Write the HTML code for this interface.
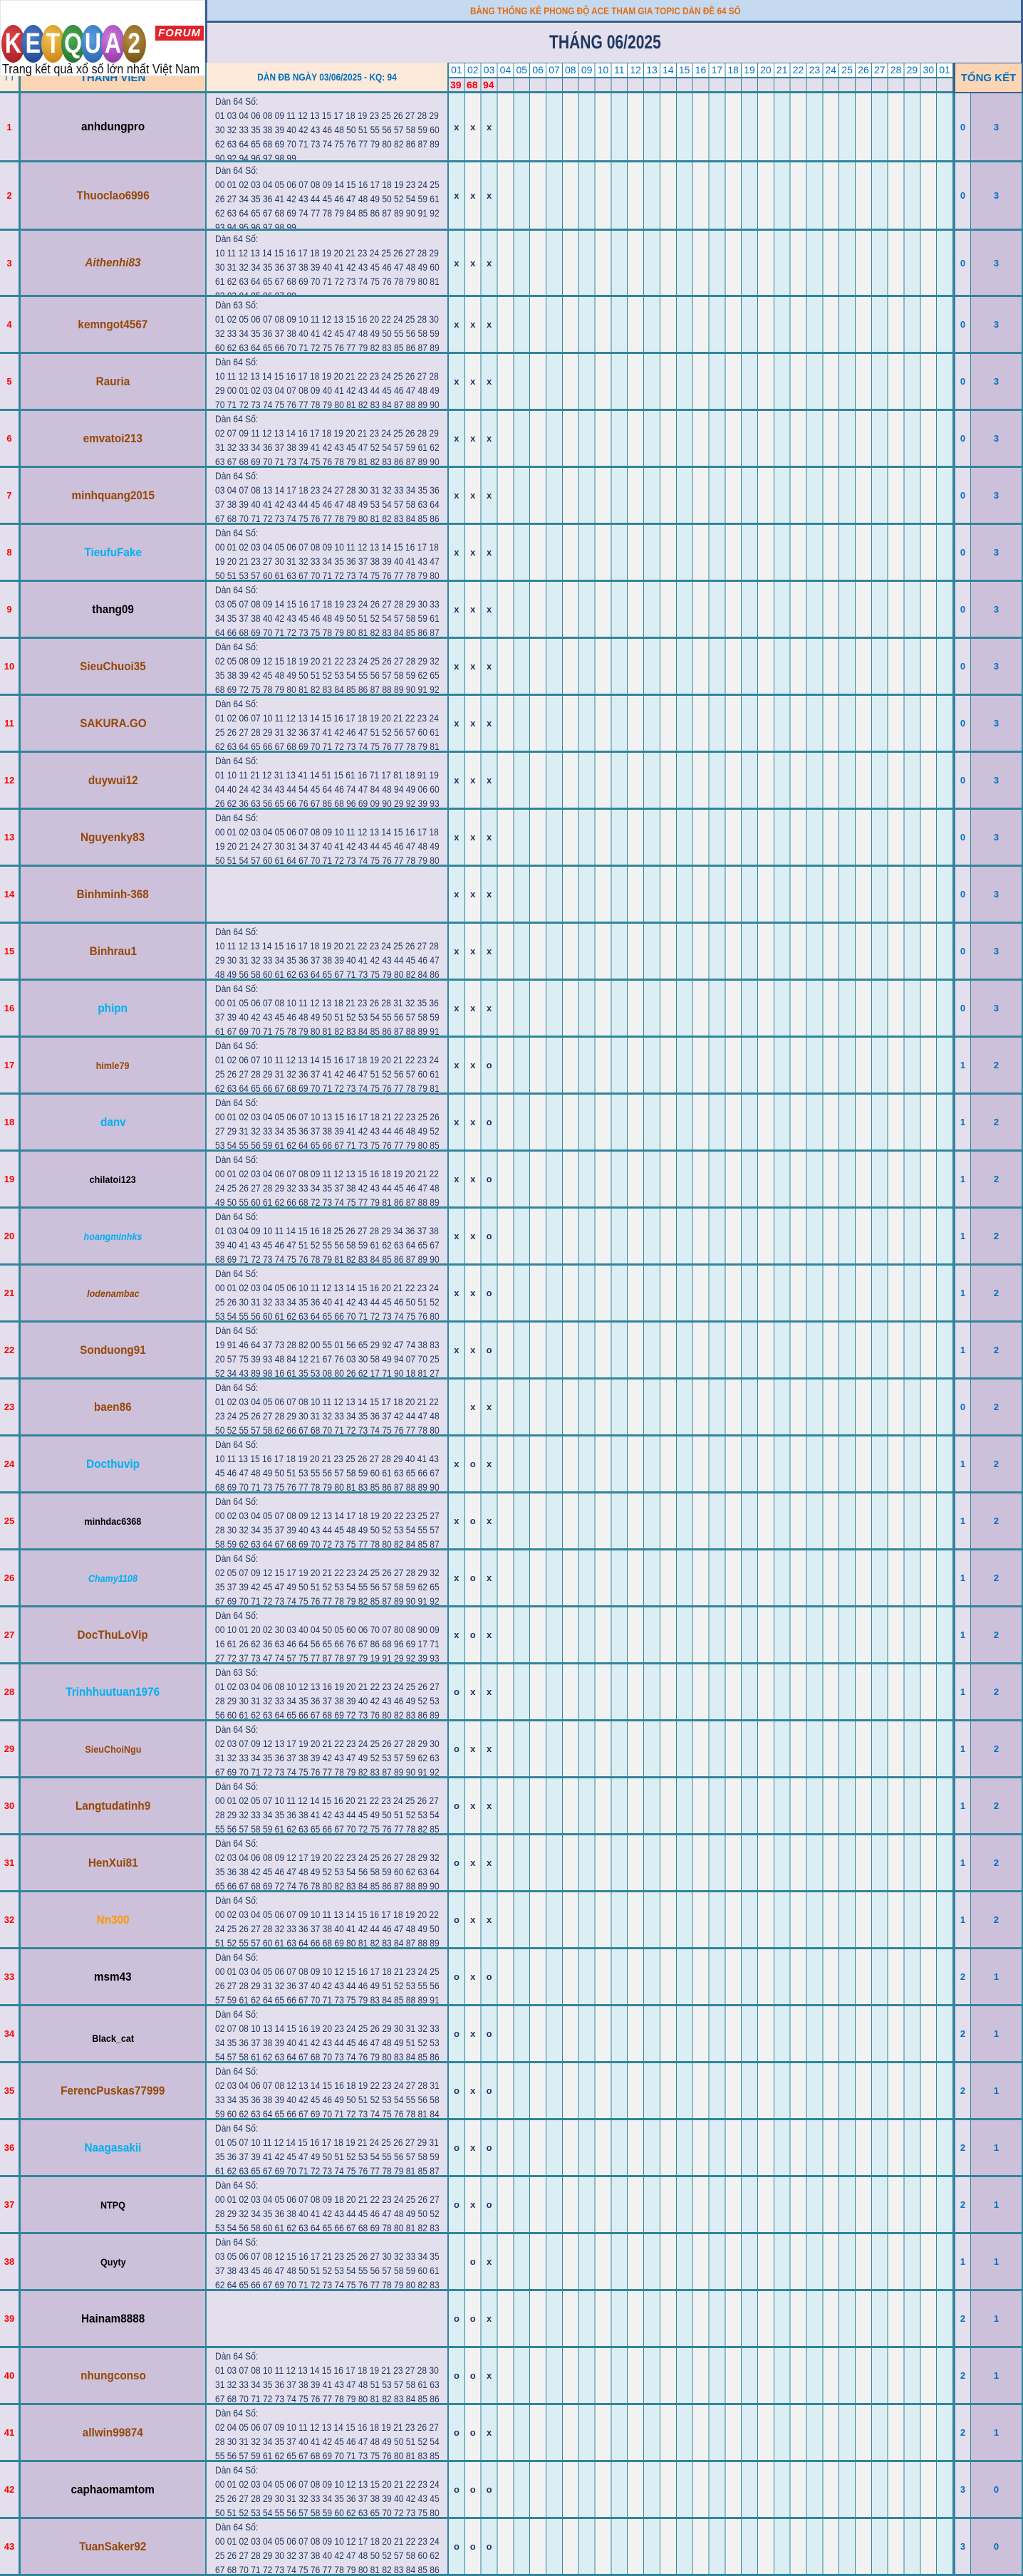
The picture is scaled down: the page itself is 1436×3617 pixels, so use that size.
<!DOCTYPE html>
<html><head><meta charset="utf-8"><style>
*{margin:0;padding:0;box-sizing:border-box}
body{width:1436px;height:3617px;position:relative;background:#fff;overflow:hidden;font-family:"Liberation Sans",sans-serif}
.r{position:absolute;left:0;width:1436px;background:#31859c}
.r>*{position:absolute;top:0;bottom:3px}
.tt{left:0;width:26px;background:#e4dfec;color:#f00;font:bold 13px "Liberation Sans",sans-serif;display:flex;align-items:center;justify-content:center}
.nm{left:29px;width:259px;background:#ccc0da;display:flex;align-items:center;justify-content:center;font:bold 17px "Liberation Sans",sans-serif;color:#974806}
.nm span{display:inline-block;transform:scaleX(.9);white-space:nowrap}
.bl{color:#00b0f0}.k{color:#000}.it{font-style:italic}.sm{font-size:14px}
.dn{left:290px;width:338px;background:#e4dfec;overflow:hidden}
.dn div{position:absolute;left:12px;top:1px;font:14px/20px "Liberation Sans",sans-serif;color:#1f3864;transform:scaleX(.86);transform-origin:0 0;white-space:nowrap}
.dy{left:630px;width:708px;background:repeating-linear-gradient(90deg,#daeef3 0,#daeef3 21.84px,#31859c 21.84px,#31859c 22.84px,#f2f2f2 22.84px,#f2f2f2 44.68px,#31859c 44.68px,#31859c 45.68px)}
.dy s{text-decoration:none;position:absolute;top:0;bottom:0;width:21.84px;display:flex;align-items:center;justify-content:center;font:bold 13px "Liberation Sans",sans-serif;color:#1f3864}
.dy s:nth-child(2){left:22.84px}.dy s:nth-child(3){left:45.68px}
.t1{left:1341px;width:21px;background:#e4dfec}
.t2{left:1363px;width:71px;background:#ccc0da}
.t1,.t2{display:flex;align-items:center;justify-content:center;color:#0070c0;font:bold 13px "Liberation Sans",sans-serif}
.ab{position:absolute}
.hdays span{position:absolute;top:0;height:19px;width:21.84px;text-align:center;font:14px/19px "Liberation Sans",sans-serif;color:#0070c0}
.circ{position:absolute;top:35px;width:33px;height:53px;border-radius:50%;color:#fff;font:bold 40px/53px "Liberation Sans",sans-serif;text-align:center}
.circ b{display:inline-block;transform:scaleX(.8)}
</style></head><body>

<!-- title bands -->
<div class="ab" style="left:288px;top:0;width:1148px;height:88px;background:#3b5f8e"></div>
<div class="ab" style="left:291px;top:0;width:1142px;height:29px;background:#c5d9f1"></div>
<div class="ab" style="left:291px;top:32px;width:1142px;height:56px;background:#e4dfec"></div>
<div class="ab" style="left:660px;top:7px;font:bold 14px 'Liberation Sans',sans-serif;color:#e46c0a;transform:scaleX(.84);transform-origin:0 0;white-space:nowrap">BẢNG THỐNG KÊ PHONG ĐỘ ACE THAM GIA TOPIC DÀN ĐỀ 64 SỐ</div>
<div class="ab" style="left:771px;top:44px;font:bold 27px 'Liberation Sans',sans-serif;color:#1f3864;transform:scaleX(.78);transform-origin:0 0;white-space:nowrap">THÁNG 06/2025</div>

<!-- header row -->
<div class="ab" style="left:0;top:88px;width:1436px;height:43px;background:#31859c"></div>
<div class="ab" style="left:0;top:88px;width:26px;height:40px;background:#fde9d9;color:#0070c0;font:14px/40px 'Liberation Sans',sans-serif;text-align:center">TT</div>
<div class="ab" style="left:29px;top:88px;width:259px;height:40px;background:#fcd5b4;color:#0070c0;font:bold 15px/44px 'Liberation Sans',sans-serif;text-align:center">THÀNH VIÊN</div>
<div class="ab" style="left:290px;top:88px;width:338px;height:40px;background:#fde9d9;color:#0070c0;font:bold 14px/40px 'Liberation Sans',sans-serif;text-align:center"><span style="display:inline-block;transform:scaleX(.85)">DÀN ĐB NGÀY 03/06/2025 - KQ: 94</span></div>
<div class="ab hdays" style="left:630px;top:89px;width:708px;height:19px;background:repeating-linear-gradient(90deg,#fff 0,#fff 21.84px,#31859c 21.84px,#31859c 22.84px)">
<span style="left:0">01</span><span style="left:22.84px">02</span><span style="left:45.68px">03</span><span style="left:68.52px">04</span><span style="left:91.36px">05</span><span style="left:114.2px">06</span><span style="left:137.04px">07</span><span style="left:159.88px">08</span><span style="left:182.72px">09</span><span style="left:205.56px">10</span><span style="left:228.4px">11</span><span style="left:251.24px">12</span><span style="left:274.08px">13</span><span style="left:296.92px">14</span><span style="left:319.76px">15</span><span style="left:342.6px">16</span><span style="left:365.44px">17</span><span style="left:388.28px">18</span><span style="left:411.12px">19</span><span style="left:433.96px">20</span><span style="left:456.8px">21</span><span style="left:479.64px">22</span><span style="left:502.48px">23</span><span style="left:525.32px">24</span><span style="left:548.16px">25</span><span style="left:571px">26</span><span style="left:593.84px">27</span><span style="left:616.68px">28</span><span style="left:639.52px">29</span><span style="left:662.36px">30</span><span style="left:685.2px">01</span></div>
<div class="ab" style="left:630px;top:110px;width:708px;height:18px;background:repeating-linear-gradient(90deg,#e4dfec 0,#e4dfec 21.84px,#31859c 21.84px,#31859c 22.84px)"></div>
<div class="ab" style="left:630px;top:109px;width:69px;font:bold 14px/20px 'Liberation Sans',sans-serif;color:#f00"><span class="ab" style="left:2px">39</span><span class="ab" style="left:25px">68</span><span class="ab" style="left:48px">94</span></div>
<div class="ab" style="left:1338px;top:88px;width:98px;height:43px;background:#3b5f8e"></div>
<div class="ab" style="left:1341px;top:89px;width:93px;height:40px;background:#fcd5b4;color:#0070c0;font:bold 15px/42px 'Liberation Sans',sans-serif;text-align:center">TỔNG KẾT</div>

<!-- logo -->
<div class="ab" style="left:0;top:0;width:288px;height:107px;background:#fff;border:1px solid #dfe6ec"></div>
<div class="circ" style="left:2px;background:radial-gradient(circle at 40% 35%,#e0444a,#9e1a20)"><b>K</b></div>
<div class="circ" style="left:30px;background:radial-gradient(circle at 40% 35%,#4a7fd0,#1c3f86)"><b>E</b></div>
<div class="circ" style="left:58px;background:radial-gradient(circle at 40% 35%,#f5c04a,#c07d10)"><b>T</b></div>
<div class="circ" style="left:86px;background:radial-gradient(circle at 40% 35%,#4aac52,#1c6b28)"><b>Q</b></div>
<div class="circ" style="left:114px;background:radial-gradient(circle at 40% 35%,#5a9fe0,#235ea8)"><b>U</b></div>
<div class="circ" style="left:142px;background:radial-gradient(circle at 40% 35%,#d07ae0,#8a2fa0)"><b>A</b></div>
<div class="circ" style="left:172px;background:radial-gradient(circle at 40% 35%,#b89040,#6b4a10)"><b>2</b></div>
<div class="ab" style="left:218px;top:36px;width:68px;height:21px;background:#e0242c;color:#fff;font:italic bold 15px/21px 'Liberation Sans',sans-serif;text-align:center;letter-spacing:1px">FORUM</div>
<div class="ab" style="left:3px;top:87px;font:18px/20px 'Liberation Sans',sans-serif;color:#111;transform:scaleX(.9);transform-origin:0 0;white-space:nowrap">Trang kết quả xổ số lớn nhất Việt Nam</div>

<!-- rows -->
<div class="r" style="top:131px;height:97px"><i class="tt">1</i><b class="nm k"><span>anhdungpro</span></b><div class="dn"><div>Dàn 64 Số:<br>01 03 04 06 08 09 11 12 13 15 17 18 19 23 25 26 27 28 29<br>30 32 33 35 38 39 40 42 43 46 48 50 51 55 56 57 58 59 60<br>62 63 64 65 68 69 70 71 73 74 75 76 77 79 80 82 86 87 89<br>90 92 94 96 97 98 99</div></div><div class="dy"><s>x</s><s>x</s><s>x</s></div><i class="t1">0</i><i class="t2">3</i></div>
<div class="r" style="top:228px;height:96px"><i class="tt">2</i><b class="nm"><span>Thuoclao6996</span></b><div class="dn"><div>Dàn 64 Số:<br>00 01 02 03 04 05 06 07 08 09 14 15 16 17 18 19 23 24 25<br>26 27 34 35 36 41 42 43 44 45 46 47 48 49 50 52 54 59 61<br>62 63 64 65 67 68 69 74 77 78 79 84 85 86 87 89 90 91 92<br>93 94 95 96 97 98 99</div></div><div class="dy"><s>x</s><s>x</s><s>x</s></div><i class="t1">0</i><i class="t2">3</i></div>
<div class="r" style="top:324px;height:93px"><i class="tt">3</i><b class="nm it"><span>Aithenhi83</span></b><div class="dn"><div>Dàn 64 Số:<br>10 11 12 13 14 15 16 17 18 19 20 21 23 24 25 26 27 28 29<br>30 31 32 34 35 36 37 38 39 40 41 42 43 45 46 47 48 49 60<br>61 62 63 64 65 67 68 69 70 71 72 73 74 75 76 78 79 80 81<br>82 83 84 85 86 87 89</div></div><div class="dy"><s>x</s><s>x</s><s>x</s></div><i class="t1">0</i><i class="t2">3</i></div>
<div class="r" style="top:417px;height:80px"><i class="tt">4</i><b class="nm"><span>kemngot4567</span></b><div class="dn"><div>Dàn 63 Số:<br>01 02 05 06 07 08 09 10 11 12 13 15 16 20 22 24 25 28 30<br>32 33 34 35 36 37 38 40 41 42 45 47 48 49 50 55 56 58 59<br>60 62 63 64 65 66 70 71 72 75 76 77 79 82 83 85 86 87 89</div></div><div class="dy"><s>x</s><s>x</s><s>x</s></div><i class="t1">0</i><i class="t2">3</i></div>
<div class="r" style="top:497px;height:80px"><i class="tt">5</i><b class="nm"><span>Rauria</span></b><div class="dn"><div>Dàn 64 Số:<br>10 11 12 13 14 15 16 17 18 19 20 21 22 23 24 25 26 27 28<br>29 00 01 02 03 04 07 08 09 40 41 42 43 44 45 46 47 48 49<br>70 71 72 73 74 75 76 77 78 79 80 81 82 83 84 87 88 89 90</div></div><div class="dy"><s>x</s><s>x</s><s>x</s></div><i class="t1">0</i><i class="t2">3</i></div>
<div class="r" style="top:577px;height:80px"><i class="tt">6</i><b class="nm"><span>emvatoi213</span></b><div class="dn"><div>Dàn 64 Số:<br>02 07 09 11 12 13 14 16 17 18 19 20 21 23 24 25 26 28 29<br>31 32 33 34 36 37 38 39 41 42 43 45 47 52 54 57 59 61 62<br>63 67 68 69 70 71 73 74 75 76 78 79 81 82 83 86 87 89 90</div></div><div class="dy"><s>x</s><s>x</s><s>x</s></div><i class="t1">0</i><i class="t2">3</i></div>
<div class="r" style="top:657px;height:80px"><i class="tt">7</i><b class="nm"><span>minhquang2015</span></b><div class="dn"><div>Dàn 64 Số:<br>03 04 07 08 13 14 17 18 23 24 27 28 30 31 32 33 34 35 36<br>37 38 39 40 41 42 43 44 45 46 47 48 49 53 54 57 58 63 64<br>67 68 70 71 72 73 74 75 76 77 78 79 80 81 82 83 84 85 86</div></div><div class="dy"><s>x</s><s>x</s><s>x</s></div><i class="t1">0</i><i class="t2">3</i></div>
<div class="r" style="top:737px;height:80px"><i class="tt">8</i><b class="nm bl"><span>TieufuFake</span></b><div class="dn"><div>Dàn 64 Số:<br>00 01 02 03 04 05 06 07 08 09 10 11 12 13 14 15 16 17 18<br>19 20 21 23 27 30 31 32 33 34 35 36 37 38 39 40 41 43 47<br>50 51 53 57 60 61 63 67 70 71 72 73 74 75 76 77 78 79 80</div></div><div class="dy"><s>x</s><s>x</s><s>x</s></div><i class="t1">0</i><i class="t2">3</i></div>
<div class="r" style="top:817px;height:80px"><i class="tt">9</i><b class="nm k"><span>thang09</span></b><div class="dn"><div>Dàn 64 Số:<br>03 05 07 08 09 14 15 16 17 18 19 23 24 26 27 28 29 30 33<br>34 35 37 38 40 42 43 45 46 48 49 50 51 52 54 57 58 59 61<br>64 66 68 69 70 71 72 73 75 78 79 80 81 82 83 84 85 86 87</div></div><div class="dy"><s>x</s><s>x</s><s>x</s></div><i class="t1">0</i><i class="t2">3</i></div>
<div class="r" style="top:897px;height:80px"><i class="tt">10</i><b class="nm"><span>SieuChuoi35</span></b><div class="dn"><div>Dàn 64 Số:<br>02 05 08 09 12 15 18 19 20 21 22 23 24 25 26 27 28 29 32<br>35 38 39 42 45 48 49 50 51 52 53 54 55 56 57 58 59 62 65<br>68 69 72 75 78 79 80 81 82 83 84 85 86 87 88 89 90 91 92</div></div><div class="dy"><s>x</s><s>x</s><s>x</s></div><i class="t1">0</i><i class="t2">3</i></div>
<div class="r" style="top:977px;height:80px"><i class="tt">11</i><b class="nm"><span>SAKURA.GO</span></b><div class="dn"><div>Dàn 64 Số:<br>01 02 06 07 10 11 12 13 14 15 16 17 18 19 20 21 22 23 24<br>25 26 27 28 29 31 32 36 37 41 42 46 47 51 52 56 57 60 61<br>62 63 64 65 66 67 68 69 70 71 72 73 74 75 76 77 78 79 81</div></div><div class="dy"><s>x</s><s>x</s><s>x</s></div><i class="t1">0</i><i class="t2">3</i></div>
<div class="r" style="top:1057px;height:80px"><i class="tt">12</i><b class="nm"><span>duywui12</span></b><div class="dn"><div>Dàn 64 Số:<br>01 10 11 21 12 31 13 41 14 51 15 61 16 71 17 81 18 91 19<br>04 40 24 42 34 43 44 54 45 64 46 74 47 84 48 94 49 06 60<br>26 62 36 63 56 65 66 76 67 86 68 96 69 09 90 29 92 39 93</div></div><div class="dy"><s>x</s><s>x</s><s>x</s></div><i class="t1">0</i><i class="t2">3</i></div>
<div class="r" style="top:1137px;height:80px"><i class="tt">13</i><b class="nm"><span>Nguyenky83</span></b><div class="dn"><div>Dàn 64 Số:<br>00 01 02 03 04 05 06 07 08 09 10 11 12 13 14 15 16 17 18<br>19 20 21 24 27 30 31 34 37 40 41 42 43 44 45 46 47 48 49<br>50 51 54 57 60 61 64 67 70 71 72 73 74 75 76 77 78 79 80</div></div><div class="dy"><s>x</s><s>x</s><s>x</s></div><i class="t1">0</i><i class="t2">3</i></div>
<div class="r" style="top:1217px;height:80px"><i class="tt">14</i><b class="nm"><span>Binhminh-368</span></b><div class="dn"><div></div></div><div class="dy"><s>x</s><s>x</s><s>x</s></div><i class="t1">0</i><i class="t2">3</i></div>
<div class="r" style="top:1297px;height:80px"><i class="tt">15</i><b class="nm"><span>Binhrau1</span></b><div class="dn"><div>Dàn 64 Số:<br>10 11 12 13 14 15 16 17 18 19 20 21 22 23 24 25 26 27 28<br>29 30 31 32 33 34 35 36 37 38 39 40 41 42 43 44 45 46 47<br>48 49 56 58 60 61 62 63 64 65 67 71 73 75 79 80 82 84 86</div></div><div class="dy"><s>x</s><s>x</s><s>x</s></div><i class="t1">0</i><i class="t2">3</i></div>
<div class="r" style="top:1377px;height:80px"><i class="tt">16</i><b class="nm bl"><span>phipn</span></b><div class="dn"><div>Dàn 64 Số:<br>00 01 05 06 07 08 10 11 12 13 18 21 23 26 28 31 32 35 36<br>37 39 40 42 43 45 46 48 49 50 51 52 53 54 55 56 57 58 59<br>61 67 69 70 71 75 78 79 80 81 82 83 84 85 86 87 88 89 91</div></div><div class="dy"><s>x</s><s>x</s><s>x</s></div><i class="t1">0</i><i class="t2">3</i></div>
<div class="r" style="top:1457px;height:80px"><i class="tt">17</i><b class="nm sm"><span>himle79</span></b><div class="dn"><div>Dàn 64 Số:<br>01 02 06 07 10 11 12 13 14 15 16 17 18 19 20 21 22 23 24<br>25 26 27 28 29 31 32 36 37 41 42 46 47 51 52 56 57 60 61<br>62 63 64 65 66 67 68 69 70 71 72 73 74 75 76 77 78 79 81</div></div><div class="dy"><s>x</s><s>x</s><s>o</s></div><i class="t1">1</i><i class="t2">2</i></div>
<div class="r" style="top:1537px;height:80px"><i class="tt">18</i><b class="nm bl"><span>danv</span></b><div class="dn"><div>Dàn 64 Số:<br>00 01 02 03 04 05 06 07 10 13 15 16 17 18 21 22 23 25 26<br>27 29 31 32 33 34 35 36 37 38 39 41 42 43 44 46 48 49 52<br>53 54 55 56 59 61 62 64 65 66 67 71 73 75 76 77 79 80 85</div></div><div class="dy"><s>x</s><s>x</s><s>o</s></div><i class="t1">1</i><i class="t2">2</i></div>
<div class="r" style="top:1617px;height:80px"><i class="tt">19</i><b class="nm k sm"><span>chilatoi123</span></b><div class="dn"><div>Dàn 64 Số:<br>00 01 02 03 04 06 07 08 09 11 12 13 15 16 18 19 20 21 22<br>24 25 26 27 28 29 32 33 34 35 37 38 42 43 44 45 46 47 48<br>49 50 55 60 61 62 66 68 72 73 74 75 77 79 81 86 87 88 89</div></div><div class="dy"><s>x</s><s>x</s><s>o</s></div><i class="t1">1</i><i class="t2">2</i></div>
<div class="r" style="top:1697px;height:80px"><i class="tt">20</i><b class="nm bl it sm"><span>hoangminhks</span></b><div class="dn"><div>Dàn 64 Số:<br>01 03 04 09 10 11 14 15 16 18 25 26 27 28 29 34 36 37 38<br>39 40 41 43 45 46 47 51 52 55 56 58 59 61 62 63 64 65 67<br>68 69 71 72 73 74 75 76 78 79 81 82 83 84 85 86 87 89 90</div></div><div class="dy"><s>x</s><s>x</s><s>o</s></div><i class="t1">1</i><i class="t2">2</i></div>
<div class="r" style="top:1777px;height:80px"><i class="tt">21</i><b class="nm it sm"><span>lodenambac</span></b><div class="dn"><div>Dàn 64 Số:<br>00 01 02 03 04 05 06 10 11 12 13 14 15 16 20 21 22 23 24<br>25 26 30 31 32 33 34 35 36 40 41 42 43 44 45 46 50 51 52<br>53 54 55 56 60 61 62 63 64 65 66 70 71 72 73 74 75 76 80</div></div><div class="dy"><s>x</s><s>x</s><s>o</s></div><i class="t1">1</i><i class="t2">2</i></div>
<div class="r" style="top:1857px;height:80px"><i class="tt">22</i><b class="nm"><span>Sonduong91</span></b><div class="dn"><div>Dàn 64 Số:<br>19 91 46 64 37 73 28 82 00 55 01 56 65 29 92 47 74 38 83<br>20 57 75 39 93 48 84 12 21 67 76 03 30 58 49 94 07 70 25<br>52 34 43 89 98 16 61 35 53 08 80 26 62 17 71 90 18 81 27</div></div><div class="dy"><s>x</s><s>x</s><s>o</s></div><i class="t1">1</i><i class="t2">2</i></div>
<div class="r" style="top:1937px;height:80px"><i class="tt">23</i><b class="nm"><span>baen86</span></b><div class="dn"><div>Dàn 64 Số:<br>01 02 03 04 05 06 07 08 10 11 12 13 14 15 17 18 20 21 22<br>23 24 25 26 27 28 29 30 31 32 33 34 35 36 37 42 44 47 48<br>50 52 55 57 58 62 66 67 68 70 71 72 73 74 75 76 77 78 80</div></div><div class="dy"><s></s><s>x</s><s>x</s></div><i class="t1">0</i><i class="t2">2</i></div>
<div class="r" style="top:2017px;height:80px"><i class="tt">24</i><b class="nm bl"><span>Docthuvip</span></b><div class="dn"><div>Dàn 64 Số:<br>10 11 13 15 16 17 18 19 20 21 23 25 26 27 28 29 40 41 43<br>45 46 47 48 49 50 51 53 55 56 57 58 59 60 61 63 65 66 67<br>68 69 70 71 73 75 76 77 78 79 80 81 83 85 86 87 88 89 90</div></div><div class="dy"><s>x</s><s>o</s><s>x</s></div><i class="t1">1</i><i class="t2">2</i></div>
<div class="r" style="top:2097px;height:80px"><i class="tt">25</i><b class="nm k sm"><span>minhdac6368</span></b><div class="dn"><div>Dàn 64 Số:<br>00 02 03 04 05 07 08 09 12 13 14 17 18 19 20 22 23 25 27<br>28 30 32 34 35 37 39 40 43 44 45 48 49 50 52 53 54 55 57<br>58 59 62 63 64 67 68 69 70 72 73 75 77 78 80 82 84 85 87</div></div><div class="dy"><s>x</s><s>o</s><s>x</s></div><i class="t1">1</i><i class="t2">2</i></div>
<div class="r" style="top:2177px;height:80px"><i class="tt">26</i><b class="nm bl it sm"><span>Chamy1108</span></b><div class="dn"><div>Dàn 64 Số:<br>02 05 07 09 12 15 17 19 20 21 22 23 24 25 26 27 28 29 32<br>35 37 39 42 45 47 49 50 51 52 53 54 55 56 57 58 59 62 65<br>67 69 70 71 72 73 74 75 76 77 78 79 82 85 87 89 90 91 92</div></div><div class="dy"><s>x</s><s>o</s><s>x</s></div><i class="t1">1</i><i class="t2">2</i></div>
<div class="r" style="top:2257px;height:80px"><i class="tt">27</i><b class="nm"><span>DocThuLoVip</span></b><div class="dn"><div>Dàn 64 Số:<br>00 10 01 20 02 30 03 40 04 50 05 60 06 70 07 80 08 90 09<br>16 61 26 62 36 63 46 64 56 65 66 76 67 86 68 96 69 17 71<br>27 72 37 73 47 74 57 75 77 87 78 97 79 19 91 29 92 39 93</div></div><div class="dy"><s>x</s><s>o</s><s>x</s></div><i class="t1">1</i><i class="t2">2</i></div>
<div class="r" style="top:2337px;height:80px"><i class="tt">28</i><b class="nm bl"><span>Trinhhuutuan1976</span></b><div class="dn"><div>Dàn 63 Số:<br>01 02 03 04 06 08 10 12 13 16 19 20 21 22 23 24 25 26 27<br>28 29 30 31 32 33 34 35 36 37 38 39 40 42 43 46 49 52 53<br>56 60 61 62 63 64 65 66 67 68 69 72 73 76 80 82 83 86 89</div></div><div class="dy"><s>o</s><s>x</s><s>x</s></div><i class="t1">1</i><i class="t2">2</i></div>
<div class="r" style="top:2417px;height:80px"><i class="tt">29</i><b class="nm sm"><span>SieuChoiNgu</span></b><div class="dn"><div>Dàn 64 Số:<br>02 03 07 09 12 13 17 19 20 21 22 23 24 25 26 27 28 29 30<br>31 32 33 34 35 36 37 38 39 42 43 47 49 52 53 57 59 62 63<br>67 69 70 71 72 73 74 75 76 77 78 79 82 83 87 89 90 91 92</div></div><div class="dy"><s>o</s><s>x</s><s>x</s></div><i class="t1">1</i><i class="t2">2</i></div>
<div class="r" style="top:2497px;height:80px"><i class="tt">30</i><b class="nm"><span>Langtudatinh9</span></b><div class="dn"><div>Dàn 64 Số:<br>00 01 02 05 07 10 11 12 14 15 16 20 21 22 23 24 25 26 27<br>28 29 32 33 34 35 36 38 41 42 43 44 45 49 50 51 52 53 54<br>55 56 57 58 59 61 62 63 65 66 67 70 72 75 76 77 78 82 85</div></div><div class="dy"><s>o</s><s>x</s><s>x</s></div><i class="t1">1</i><i class="t2">2</i></div>
<div class="r" style="top:2577px;height:80px"><i class="tt">31</i><b class="nm"><span>HenXui81</span></b><div class="dn"><div>Dàn 64 Số:<br>02 03 04 06 08 09 12 17 19 20 22 23 24 25 26 27 28 29 32<br>35 36 38 42 45 46 47 48 49 52 53 54 56 58 59 60 62 63 64<br>65 66 67 68 69 72 74 76 78 80 82 83 84 85 86 87 88 89 90</div></div><div class="dy"><s>o</s><s>x</s><s>x</s></div><i class="t1">1</i><i class="t2">2</i></div>
<div class="r" style="top:2657px;height:80px"><i class="tt">32</i><b class="nm" style="color:#ff9900"><span>Nn300</span></b><div class="dn"><div>Dàn 64 Số:<br>00 02 03 04 05 06 07 09 10 11 13 14 15 16 17 18 19 20 22<br>24 25 26 27 28 32 33 36 37 38 40 41 42 44 46 47 48 49 50<br>51 52 55 57 60 61 63 64 66 68 69 80 81 82 83 84 87 88 89</div></div><div class="dy"><s>o</s><s>x</s><s>x</s></div><i class="t1">1</i><i class="t2">2</i></div>
<div class="r" style="top:2737px;height:80px"><i class="tt">33</i><b class="nm k"><span>msm43</span></b><div class="dn"><div>Dàn 64 Số:<br>00 01 03 04 05 06 07 08 09 10 12 15 16 17 18 21 23 24 25<br>26 27 28 29 31 32 36 37 40 42 43 44 46 49 51 52 53 55 56<br>57 59 61 62 64 65 66 67 70 71 73 75 79 83 84 85 88 89 91</div></div><div class="dy"><s>o</s><s>x</s><s>o</s></div><i class="t1">2</i><i class="t2">1</i></div>
<div class="r" style="top:2817px;height:80px"><i class="tt">34</i><b class="nm k sm" style="padding-top:12px"><span>Black_cat</span></b><div class="dn"><div>Dàn 64 Số:<br>02 07 08 10 13 14 15 16 19 20 23 24 25 26 29 30 31 32 33<br>34 35 36 37 38 39 40 41 42 43 44 45 46 47 48 49 51 52 53<br>54 57 58 61 62 63 64 67 68 70 73 74 76 79 80 83 84 85 86</div></div><div class="dy"><s>o</s><s>x</s><s>o</s></div><i class="t1">2</i><i class="t2">1</i></div>
<div class="r" style="top:2897px;height:80px"><i class="tt">35</i><b class="nm"><span>FerencPuskas77999</span></b><div class="dn"><div>Dàn 64 Số:<br>02 03 04 06 07 08 12 13 14 15 16 18 19 22 23 24 27 28 31<br>33 34 35 36 38 39 40 42 45 46 49 50 51 52 53 54 55 56 58<br>59 60 62 63 64 65 66 67 69 70 71 72 73 74 75 76 78 81 84</div></div><div class="dy"><s>o</s><s>x</s><s>o</s></div><i class="t1">2</i><i class="t2">1</i></div>
<div class="r" style="top:2977px;height:80px"><i class="tt">36</i><b class="nm bl"><span>Naagasakii</span></b><div class="dn"><div>Dàn 64 Số:<br>01 05 07 10 11 12 14 15 16 17 18 19 21 24 25 26 27 29 31<br>35 36 37 39 41 42 45 47 49 50 51 52 53 54 55 56 57 58 59<br>61 62 63 65 67 69 70 71 72 73 74 75 76 77 78 79 81 85 87</div></div><div class="dy"><s>o</s><s>x</s><s>o</s></div><i class="t1">2</i><i class="t2">1</i></div>
<div class="r" style="top:3057px;height:80px"><i class="tt">37</i><b class="nm k sm"><span>NTPQ</span></b><div class="dn"><div>Dàn 64 Số:<br>00 01 02 03 04 05 06 07 08 09 18 20 21 22 23 24 25 26 27<br>28 29 32 34 35 36 38 40 41 42 43 44 45 46 47 48 49 50 52<br>53 54 56 58 60 61 62 63 64 65 66 67 68 69 78 80 81 82 83</div></div><div class="dy"><s>o</s><s>x</s><s>o</s></div><i class="t1">2</i><i class="t2">1</i></div>
<div class="r" style="top:3137px;height:80px"><i class="tt">38</i><b class="nm k sm"><span>Quyty</span></b><div class="dn"><div>Dàn 64 Số:<br>03 05 06 07 08 12 15 16 17 21 23 25 26 27 30 32 33 34 35<br>37 38 43 45 46 47 48 50 51 52 53 54 55 56 57 58 59 60 61<br>62 64 65 66 67 69 70 71 72 73 74 75 76 77 78 79 80 82 83</div></div><div class="dy"><s></s><s>o</s><s>x</s></div><i class="t1">1</i><i class="t2">1</i></div>
<div class="r" style="top:3217px;height:80px"><i class="tt">39</i><b class="nm k"><span>Hainam8888</span></b><div class="dn"><div></div></div><div class="dy"><s>o</s><s>o</s><s>x</s></div><i class="t1">2</i><i class="t2">1</i></div>
<div class="r" style="top:3297px;height:80px"><i class="tt">40</i><b class="nm"><span>nhungconso</span></b><div class="dn"><div>Dàn 64 Số:<br>01 03 07 08 10 11 12 13 14 15 16 17 18 19 21 23 27 28 30<br>31 32 33 34 35 36 37 38 39 41 43 47 48 51 53 57 58 61 63<br>67 68 70 71 72 73 74 75 76 77 78 79 80 81 82 83 84 85 86</div></div><div class="dy"><s>o</s><s>o</s><s>x</s></div><i class="t1">2</i><i class="t2">1</i></div>
<div class="r" style="top:3377px;height:80px"><i class="tt">41</i><b class="nm"><span>allwin99874</span></b><div class="dn"><div>Dàn 64 Số:<br>02 04 05 06 07 09 10 11 12 13 14 15 16 18 19 21 23 26 27<br>28 30 31 32 34 35 37 40 41 42 45 46 47 48 49 50 51 52 54<br>55 56 57 59 61 62 65 67 68 69 70 71 73 75 76 80 81 83 85</div></div><div class="dy"><s>o</s><s>o</s><s>x</s></div><i class="t1">2</i><i class="t2">1</i></div>
<div class="r" style="top:3457px;height:80px"><i class="tt">42</i><b class="nm k"><span>caphaomamtom</span></b><div class="dn"><div>Dàn 64 Số:<br>00 01 02 03 04 05 06 07 08 09 10 12 13 15 20 21 22 23 24<br>25 26 27 28 29 30 31 32 33 34 35 36 37 38 39 40 42 43 45<br>50 51 52 53 54 55 56 57 58 59 60 62 63 65 70 72 73 75 80</div></div><div class="dy"><s>o</s><s>o</s><s>o</s></div><i class="t1">3</i><i class="t2">0</i></div>
<div class="r" style="top:3537px;height:80px"><i class="tt">43</i><b class="nm"><span>TuanSaker92</span></b><div class="dn"><div>Dàn 64 Số:<br>00 01 02 03 04 05 06 07 08 09 10 12 17 18 20 21 22 23 24<br>25 26 27 28 29 30 32 37 38 40 42 47 48 50 52 57 58 60 62<br>67 68 70 71 72 73 74 75 76 77 78 79 80 81 82 83 84 85 86</div></div><div class="dy"><s>o</s><s>o</s><s>o</s></div><i class="t1">3</i><i class="t2">0</i></div>

</body></html>
